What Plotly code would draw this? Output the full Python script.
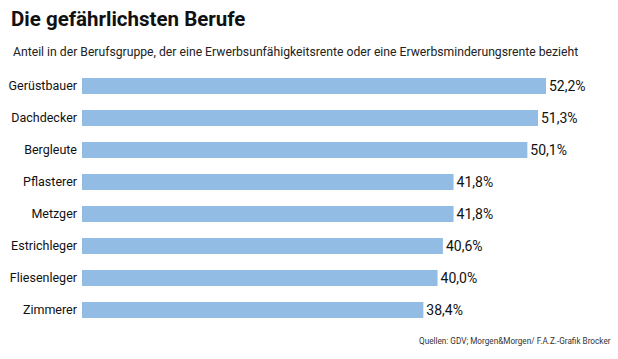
import plotly.graph_objects as go

categories = ["Gerüstbauer", "Dachdecker", "Bergleute", "Pflasterer", "Metzger",
              "Estrichleger", "Fliesenleger", "Zimmerer"]
values = [52.2, 51.3, 50.1, 41.8, 41.8, 40.6, 40.0, 38.4]
value_labels = ["52,2%", "51,3%", "50,1%", "41,8%", "41,8%", "40,6%", "40,0%", "38,4%"]

title = "Die gefährlichsten Berufe"
subtitle = "Anteil in der Berufsgruppe, der eine Erwerbsunfähigkeitsrente oder eine Erwerbsminderungsrente bezieht"
source = "Quellen: GDV; Morgen&Morgen/ F.A.Z.-Grafik Brocker"

FONT = "Roboto, sans-serif"
W, H = 618, 359
ML, MR, MT, MB = 82, 0, 70, 33

fig = go.Figure(go.Bar(
    x=values, y=categories, orientation="h",
    marker=dict(color="#92bce3", line=dict(width=0)),
    width=0.5,
    text=value_labels, textposition="outside",
    textfont=dict(family=FONT, size=14, color="#111111"),
    cliponaxis=False,
    hoverinfo="skip",
))

plot_w = W - ML - MR
plot_h = H - MT - MB


def px_x(px):
    return (px - ML) / plot_w


def px_y(py_from_top):
    return (H - py_from_top - MB) / plot_h


fig.update_layout(
    width=W, height=H,
    margin=dict(l=ML, r=MR, t=MT, b=MB, autoexpand=False),
    paper_bgcolor="white", plot_bgcolor="white",
    showlegend=False,
    xaxis=dict(range=[0, 60.3], visible=False, fixedrange=True, automargin=False),
    yaxis=dict(autorange=False, range=[7.5, -0.5], type="category", automargin=False,
               fixedrange=True,
               showgrid=False, showline=False, zeroline=False, ticks="",
               ticklabelstandoff=4,
               tickfont=dict(family=FONT, size=12.5, color="#111111")),
    annotations=[
        dict(text="<b>" + title + "</b>", x=px_x(9), y=px_y(19), xref="paper", yref="paper",
             showarrow=False, xanchor="left", yanchor="middle",
             font=dict(family=FONT, size=20.5, color="#111111")),
        dict(text=subtitle, x=px_x(11), y=px_y(52), xref="paper", yref="paper",
             showarrow=False, xanchor="left", yanchor="middle",
             font=dict(family=FONT, size=12.2, color="#222222")),
        dict(text=source, x=px_x(613), y=px_y(341), xref="paper", yref="paper",
             showarrow=False, xanchor="right", yanchor="middle",
             font=dict(family=FONT, size=8.2, color="#333333")),
    ],
)

fig.write_html("out.html", config={"displayModeBar": False},
               post_script="document.body.style.margin='0';")
